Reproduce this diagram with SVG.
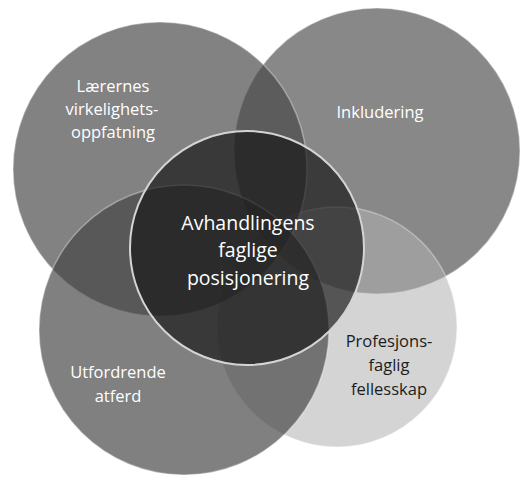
<svg xmlns="http://www.w3.org/2000/svg" width="523" height="478" viewBox="0 0 523 478">
  <style>
    .c { fill-opacity: 0.68; stroke: #ffffff; stroke-opacity: 0.35; stroke-width: 1.5; }
    .t { font-family: "Open Sans", "Noto Sans", "DejaVu Sans", sans-serif; font-size: 16.5px; text-anchor: middle; fill: #ffffff; }
    .big { font-size: 19.5px; }
    .dark { fill: #1c1c1c; }
  </style>
  <rect width="523" height="478" fill="#ffffff"/>
  <g id="node-inkludering">
    <circle class="c" cx="377" cy="151" r="143" fill="#505050"/>
    <text class="t" x="380" y="118">Inkludering</text>
  </g>
  <g id="node-profesjonsfaglig">
    <circle cx="337" cy="327" r="120" fill="#b0b0b0" fill-opacity="0.55" stroke="#ffffff" stroke-opacity="0.35" stroke-width="1.5"/>
  </g>
  <g id="node-laerernes">
    <circle class="c" cx="160" cy="169" r="147" fill="#474747"/>
    <text class="t" x="113" y="92">Lærernes</text>
    <text class="t" x="112" y="115">virkelighets-</text>
    <text class="t" x="113" y="138">oppfatning</text>
  </g>
  <g id="node-utfordrende">
    <circle class="c" cx="184" cy="330" r="145" fill="#444444"/>
    <text class="t" x="118" y="378">Utfordrende</text>
    <text class="t" x="118" y="402">atferd</text>
  </g>
  <g id="node-avhandlingens">
    <circle cx="247" cy="248" r="117" fill="#141414" fill-opacity="0.66" stroke="#d4d4d4" stroke-width="2"/>
    <text class="t big" x="248" y="230">Avhandlingens</text>
    <text class="t big" x="248" y="257">faglige</text>
    <text class="t big" x="248" y="285">posisjonering</text>
  </g>
  <g id="label-profesjonsfaglig">
    <text class="t dark" x="389" y="347">Profesjons-</text>
    <text class="t dark" x="389" y="371">faglig</text>
    <text class="t dark" x="389" y="395">fellesskap</text>
  </g>
  <g id="connectors"/>
</svg>
